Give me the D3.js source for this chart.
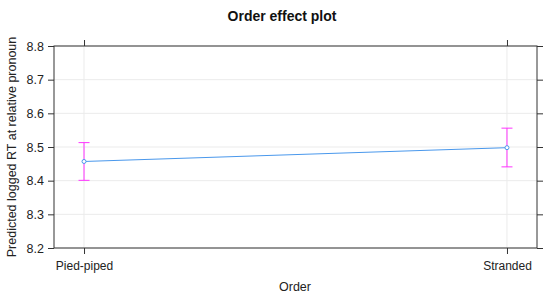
<!DOCTYPE html>
<html>
<head>
<meta charset="utf-8">
<script src="https://cdn.jsdelivr.net/npm/d3@7"></script>
<style>
  body { margin: 0; background: #fff; }
  text { font-family: "Liberation Sans", Arial, sans-serif; }
</style>
</head>
<body>
<svg id="chart" width="550" height="297"></svg>
<script>
// data
const orders = ["Pied-piped", "Stranded"];
const fitValues = [8.457, 8.498];
const lowerValues = [8.401, 8.441];
const upperValues = [8.513, 8.556];
const yTicks = [8.2, 8.3, 8.4, 8.5, 8.6, 8.7, 8.8];

const width = 550;
const height = 297;
const panel = { left: 54, right: 537, top: 46, bottom: 248 };

const svg = d3.select("#chart");
const points = orders.map((o, i) => ({
  order: o,
  fit: fitValues[i],
  lower: lowerValues[i],
  upper: upperValues[i],
}));

// scales
const x = d3
  .scalePoint()
  .domain(orders)
  .range([panel.left, panel.right])
  .padding(0.071);

const y = d3
  .scaleLinear()
  .domain([8.2, 8.8])
  .range([panel.bottom, panel.top]);

const axisColor = "#333";
const textColor = "#222";
const lineBlue = "#4a98ec";
const ciPink = "#ff33ff";

// grid
svg
  .selectAll(".hgrid")
  .data(yTicks)
  .enter()
  .append("line")
  .attr("x1", panel.left)
  .attr("x2", panel.right)
  .attr("y1", (d) => y(d))
  .attr("y2", (d) => y(d))
  .attr("stroke", "#ebebeb");

svg
  .selectAll(".vgrid")
  .data(orders)
  .enter()
  .append("line")
  .attr("x1", (d) => x(d))
  .attr("x2", (d) => x(d))
  .attr("y1", panel.top)
  .attr("y2", panel.bottom)
  .attr("stroke", "#ebebeb");

// panel border
svg
  .append("rect")
  .attr("x", panel.left)
  .attr("y", panel.top)
  .attr("width", panel.right - panel.left)
  .attr("height", panel.bottom - panel.top)
  .attr("fill", "none")
  .attr("stroke", axisColor);

// left axis with labels
svg
  .append("g")
  .attr("transform", `translate(${panel.left},0)`)
  .call(d3.axisLeft(y).tickValues(yTicks).tickSize(6).tickPadding(4).tickFormat(d3.format(".1f")))
  .call((g) => g.select(".domain").remove())
  .call((g) => g.selectAll("line").attr("stroke", axisColor))
  .call((g) =>
    g.selectAll("text").attr("font-size", "12.5px").attr("fill", textColor)
  );

// right axis ticks only
svg
  .append("g")
  .attr("transform", `translate(${panel.right},0)`)
  .call(d3.axisRight(y).tickValues(yTicks).tickSize(6).tickFormat(""))
  .call((g) => g.select(".domain").remove())
  .call((g) => g.selectAll("line").attr("stroke", axisColor));

// bottom axis with labels
svg
  .append("g")
  .attr("transform", `translate(0,${panel.bottom})`)
  .call(d3.axisBottom(x).tickSize(6).tickPadding(7))
  .call((g) => g.select(".domain").remove())
  .call((g) => g.selectAll("line").attr("stroke", axisColor))
  .call((g) =>
    g.selectAll("text").attr("font-size", "12px").attr("fill", textColor)
  );

// top axis ticks only
svg
  .append("g")
  .attr("transform", `translate(0,${panel.top})`)
  .call(d3.axisTop(x).tickSize(6).tickFormat(""))
  .call((g) => g.select(".domain").remove())
  .call((g) => g.selectAll("line").attr("stroke", axisColor));

// fitted line
svg
  .append("path")
  .datum(points)
  .attr("fill", "none")
  .attr("stroke", lineBlue)
  .attr("stroke-width", 1)
  .attr(
    "d",
    d3
      .line()
      .x((d) => x(d.order))
      .y((d) => y(d.fit))
  );

// error bars
const bars = svg.selectAll(".ci").data(points).enter().append("g");

bars
  .append("line")
  .attr("x1", (d) => x(d.order))
  .attr("x2", (d) => x(d.order))
  .attr("y1", (d) => y(d.lower))
  .attr("y2", (d) => y(d.upper))
  .attr("stroke", ciPink)
  .attr("stroke-width", 1);

["lower", "upper"].forEach((k) => {
  bars
    .append("line")
    .attr("x1", (d) => x(d.order) - 5.5)
    .attr("x2", (d) => x(d.order) + 5.5)
    .attr("y1", (d) => y(d[k]))
    .attr("y2", (d) => y(d[k]))
    .attr("stroke", ciPink)
    .attr("stroke-width", 1);
});

// points
svg
  .selectAll(".pt")
  .data(points)
  .enter()
  .append("circle")
  .attr("cx", (d) => x(d.order))
  .attr("cy", (d) => y(d.fit))
  .attr("r", 2)
  .attr("fill", "#fff")
  .attr("stroke", lineBlue)
  .attr("stroke-width", 1);

// title and axis titles
svg
  .append("text")
  .attr("x", 282)
  .attr("y", 21)
  .attr("text-anchor", "middle")
  .attr("font-size", "14px")
  .attr("font-weight", "bold")
  .attr("fill", "#111")
  .text("Order effect plot");

svg
  .append("text")
  .attr("x", 295)
  .attr("y", 291)
  .attr("text-anchor", "middle")
  .attr("font-size", "12.5px")
  .attr("fill", textColor)
  .text("Order");

svg
  .append("text")
  .attr("transform", `translate(16,${(panel.top + panel.bottom) / 2}) rotate(-90)`)
  .attr("text-anchor", "middle")
  .attr("font-size", "12.5px")
  .attr("fill", textColor)
  .text("Predicted logged RT at relative pronoun");
</script>
</body>
</html>
